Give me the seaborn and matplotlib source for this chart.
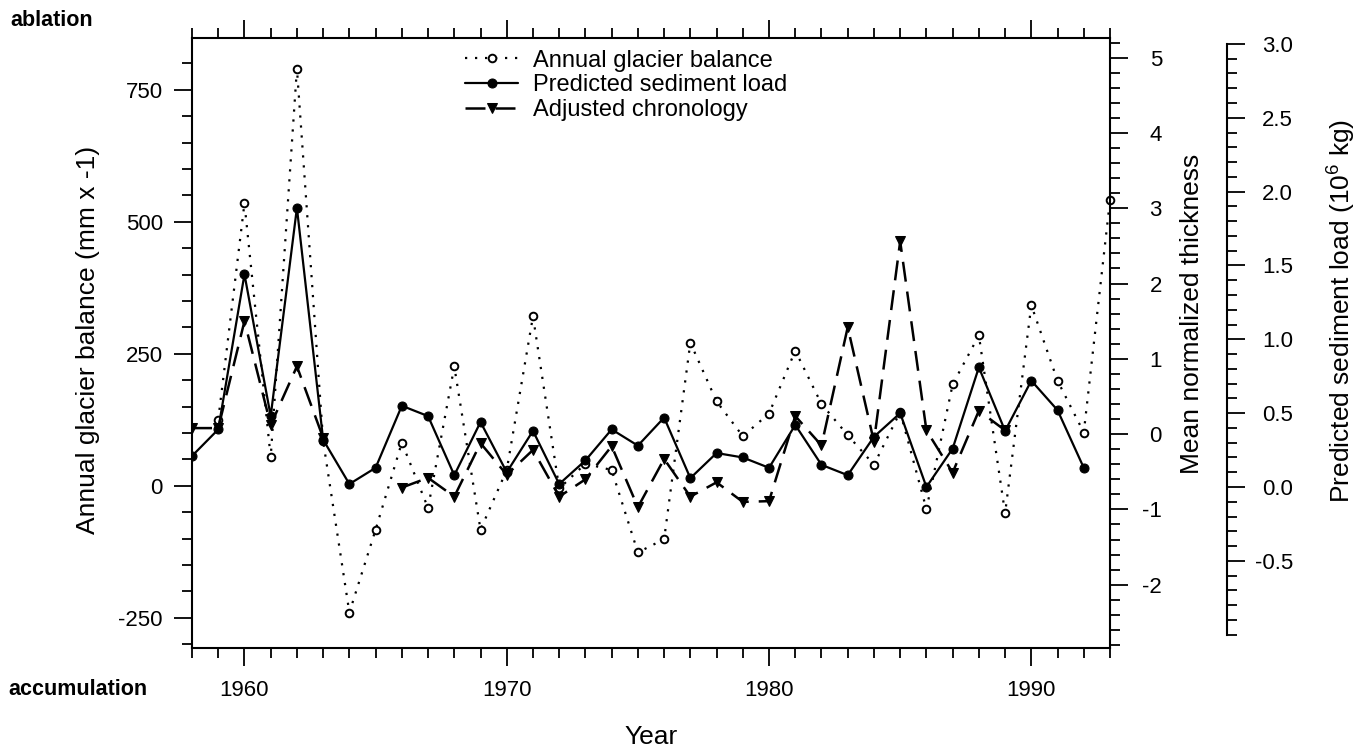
import numpy as np
import pandas as pd
import seaborn as sns
import matplotlib.pyplot as plt
from matplotlib.ticker import MultipleLocator, FixedLocator, FormatStrFormatter

# Data (one value per year, 1958-1993)
years = list(range(1958, 1994))

# annual glacier balance (mm), no value for 1958
balance = [np.nan, 125, 535, 54, 790, 85, -240, -83, 82, -42, 226, -83,
           30, 321, -5, 42, 30, -126, -101, 271, 160, 94, 137, 256,
           155, 96, 40, 140, -44, 192, 285, -52, 342, 199, 101, 541]

# predicted sediment load (10^6 kg), ends 1992
sediment = [0.21, 0.39, 1.44, 0.48, 1.89, 0.32, 0.02, 0.13, 0.55, 0.48,
            0.08, 0.44, 0.10, 0.38, 0.02, 0.18, 0.39, 0.28, 0.47, 0.06,
            0.23, 0.20, 0.13, 0.42, 0.15, 0.08, 0.34, 0.50, 0.00, 0.26,
            0.81, 0.38, 0.72, 0.52, 0.13, np.nan]

# adjusted chronology (mean normalized thickness), gap 1964-65, ends 1989
thickness = [0.08, 0.08, 1.50, 0.12, 0.90, -0.05, np.nan, np.nan, -0.71, -0.58,
             -0.83, -0.12, -0.54, -0.21, -0.83, -0.60, -0.16, -0.97, -0.33, -0.83,
             -0.64, -0.90, -0.89, 0.24, -0.15, 1.42, -0.10, 2.56, 0.05, -0.51,
             0.31, 0.05, np.nan, np.nan, np.nan, np.nan]

legend_labels = ['Annual glacier balance', 'Predicted sediment load', 'Adjusted chronology']

sns.set_style('ticks')
plt.rcParams['font.family'] = ['Liberation Sans', 'DejaVu Sans']
plt.rcParams['axes.unicode_minus'] = False
plt.rcParams['mathtext.fontset'] = 'custom'
plt.rcParams['mathtext.rm'] = 'Liberation Sans'
for key in ['text.color', 'axes.labelcolor', 'xtick.color', 'ytick.color', 'axes.edgecolor']:
    plt.rcParams[key] = 'black'

df = pd.DataFrame({'year': years, 'balance': balance,
                   'sediment': sediment, 'thickness': thickness})
# segment id so the gap in the chronology is not bridged
df['seg'] = df['thickness'].isna().cumsum()

fig = plt.figure(figsize=(13.66, 7.49), dpi=100)
ax = fig.add_axes([0.14056, 0.13485, 0.67204, 0.81442])
ax2 = ax.twinx()
ax3 = ax.twinx()

sns.lineplot(data=df, x='year', y='balance', ax=ax, estimator=None,
             color='black', linewidth=1.6, linestyle=(0, (1, 3.5)),
             marker='o', markersize=5.5, markerfacecolor='white',
             markeredgecolor='black', markeredgewidth=1.4, clip_on=False)
sns.lineplot(data=df, x='year', y='sediment', ax=ax3, estimator=None,
             color='black', linewidth=1.6, marker='o', markersize=6.5,
             markerfacecolor='black', markeredgecolor='black')
sns.lineplot(data=df, x='year', y='thickness', units='seg', ax=ax2,
             estimator=None, color='black', linewidth=1.8,
             linestyle=(0, (8, 4)), marker='v', markersize=7,
             markerfacecolor='black', markeredgecolor='black')

# limits
ax.set_xlim(1958, 1993)
ax.set_ylim(-307, 848)
ax2.set_ylim(-2.84, 5.26)
ax3.set_ylim(-1.09, 3.04)

# spines
for s in ax.spines.values():
    s.set_linewidth(1.5)
    s.set_color('black')
ax.spines['right'].set_visible(False)
for a in (ax2, ax3):
    for name, s in a.spines.items():
        s.set_visible(name == 'right')
        s.set_linewidth(1.5)
        s.set_color('black')
ax3.spines['right'].set_position(('axes', 1.1275))
ax3.spines['right'].set_bounds(-1.0, 3.0)

# ticks
ax.xaxis.set_major_locator(FixedLocator([1960, 1970, 1980, 1990]))
ax.xaxis.set_minor_locator(MultipleLocator(1))
ax.yaxis.set_major_locator(FixedLocator([-250, 0, 250, 500, 750]))
ax.yaxis.set_minor_locator(MultipleLocator(50))
ax2.yaxis.set_major_locator(MultipleLocator(1))
ax2.yaxis.set_minor_locator(MultipleLocator(0.2))
ax2.yaxis.set_major_formatter(FormatStrFormatter('%d'))
ax3.yaxis.set_major_locator(FixedLocator([-0.5, 0, 0.5, 1.0, 1.5, 2.0, 2.5, 3.0]))
ax3.yaxis.set_minor_locator(FixedLocator(np.round(np.arange(-1.0, 3.01, 0.1), 2)))
ax3.yaxis.set_major_formatter(FormatStrFormatter('%.1f'))

ax.tick_params(axis='both', which='major', direction='out', length=13,
               width=1.3, labelsize=16, colors='black')
ax.tick_params(axis='both', which='minor', direction='out', length=7.5, width=1.3)
ax.tick_params(axis='x', which='both', top=True, labeltop=False)
ax.tick_params(axis='x', pad=10)
ax.tick_params(axis='y', pad=8)
for a, pad in [(ax2, 24.4), (ax3, 34.5)]:
    a.tick_params(axis='y', which='major', direction='out', length=13,
                  width=1.3, labelsize=16, pad=pad, colors='black')
    a.tick_params(axis='y', which='minor', direction='out', length=7.5, width=1.3)

# axis labels
ax.set_xlabel('Year', fontsize=19)
ax.xaxis.set_label_coords(0.5, -0.127)
ax.set_ylabel('Annual glacier balance (mm x -1)', fontsize=19)
ax.yaxis.set_label_coords(-0.100, 0.505)
ax2.set_ylabel('Mean normalized thickness', fontsize=19)
ax2.yaxis.set_label_coords(1.0763, 0.5475)
ax3.set_ylabel('Predicted sediment load (10$^{\\mathrm{6}}$ kg)', fontsize=19)
ax3.yaxis.set_label_coords(1.233, 0.5525)

fig.text(0.0073, 0.973, 'ablation', fontsize=15.5, fontweight='bold',
         ha='left', va='center')
fig.text(0.0060, 0.079, 'accumulation', fontsize=15.5, fontweight='bold',
         ha='left', va='center')

# legend
handles = [ax.lines[0], ax3.lines[0], ax2.lines[0]]
ax3.legend(handles, legend_labels, loc='upper left',
           bbox_to_anchor=(0.2974, 0.981), frameon=False, fontsize=17,
           handlelength=2.25, handletextpad=0.64, labelspacing=0.12,
           borderpad=0, borderaxespad=0, numpoints=1)

# right-hand tick labels are right aligned in the original
fig.canvas.draw()
for a in (ax2, ax3):
    plt.setp(a.get_yticklabels(), ha='right')

fig.savefig('out.png', dpi=100)
plt.close(fig)
